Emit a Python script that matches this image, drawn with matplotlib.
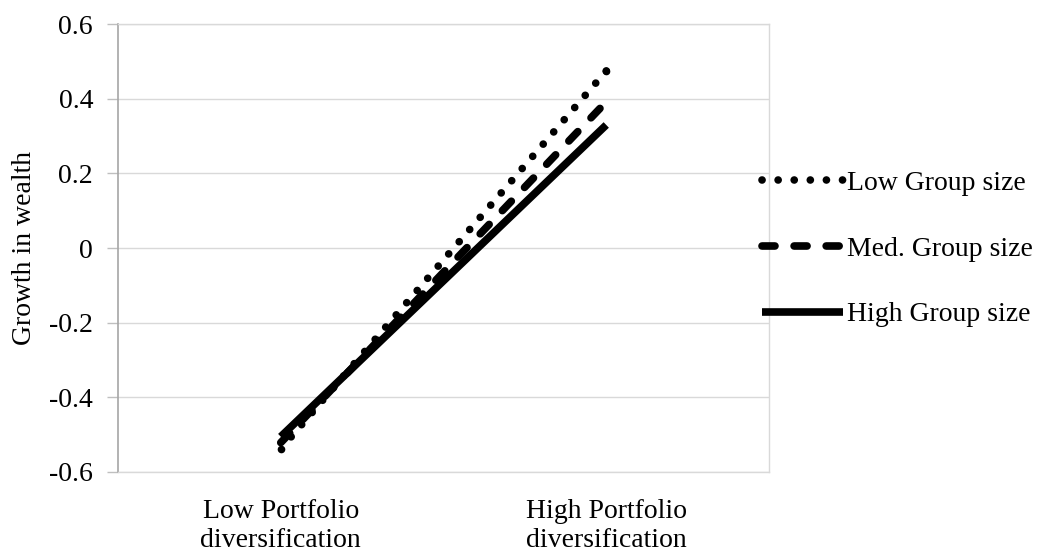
import matplotlib.pyplot as plt

plt.rcParams['font.family'] = ['Liberation Serif', 'DejaVu Serif']

# data
categories = ['Low Portfolio\ndiversification', 'High Portfolio\ndiversification']
low_group = [-0.539, 0.475]
med_group = [-0.522, 0.392]
high_group = [-0.506, 0.330]
series_names = ['Low Group size', 'Med. Group size', 'High Group size']
y_ticks = [-0.6, -0.4, -0.2, 0, 0.2, 0.4, 0.6]
y_tick_labels = ['-0.6', '-0.4', '-0.2', '0', '0.2', '0.4', '0.6']

fig = plt.figure(figsize=(10.4, 5.54), dpi=100)
ax = fig.add_axes([118 / 1040, 1 - 471.7 / 554, (769 - 118) / 1040, (471.7 - 24.3) / 554])

x = list(range(len(categories)))
# dotted series drawn from the high end so a dot sits on the last point
ax.plot(x[::-1], low_group[::-1], color='black', lw=5.5, linestyle=(0, (0.01, 2.097)),
        dash_capstyle='round', label=series_names[0], zorder=3)
# round dots on both ends of the dotted series
ax.plot(x, low_group, 'o', color='black', ms=5.5, mew=0, zorder=3)
ax.plot(x, med_group, color='black', lw=5.5, linestyle=(0, (1.7, 2.5)),
        dash_capstyle='round', label=series_names[1], zorder=3)
ax.plot(x, high_group, color='black', lw=5.5, solid_capstyle='butt',
        label=series_names[2], zorder=3)

ax.set_xlim(-0.5, 1.5)
ax.set_ylim(-0.6, 0.6)
ax.set_yticks(y_ticks)
ax.set_yticklabels(y_tick_labels)
ax.set_xticks(x)
ax.set_xticklabels(categories)

ax.yaxis.grid(True, color='#d9d9d9', lw=1)
ax.set_axisbelow(True)
ax.tick_params(axis='y', length=8, width=1, color='#bfbfbf', labelsize=20, pad=10)
ax.tick_params(axis='x', length=0, labelsize=20, pad=20)
for lab in ax.get_xticklabels():
    lab.set_linespacing(1.2)

for side in ['top', 'right', 'bottom']:
    ax.spines[side].set_color('#d9d9d9')
    ax.spines[side].set_linewidth(1)
ax.spines['left'].set_color('#a6a6a6')
ax.spines['left'].set_linewidth(1.2)

ax.set_ylabel('Growth in wealth', fontsize=20)
ax.yaxis.set_label_coords(-0.124, 0.5)

fig.legend(loc='center left', bbox_to_anchor=(762 / 1040, 1 - 249 / 554),
           frameon=False, fontsize=20, handlelength=2.9, handletextpad=0.15,
           labelspacing=1.45, borderpad=0, borderaxespad=0)

fig.savefig('out.png', dpi=100)
